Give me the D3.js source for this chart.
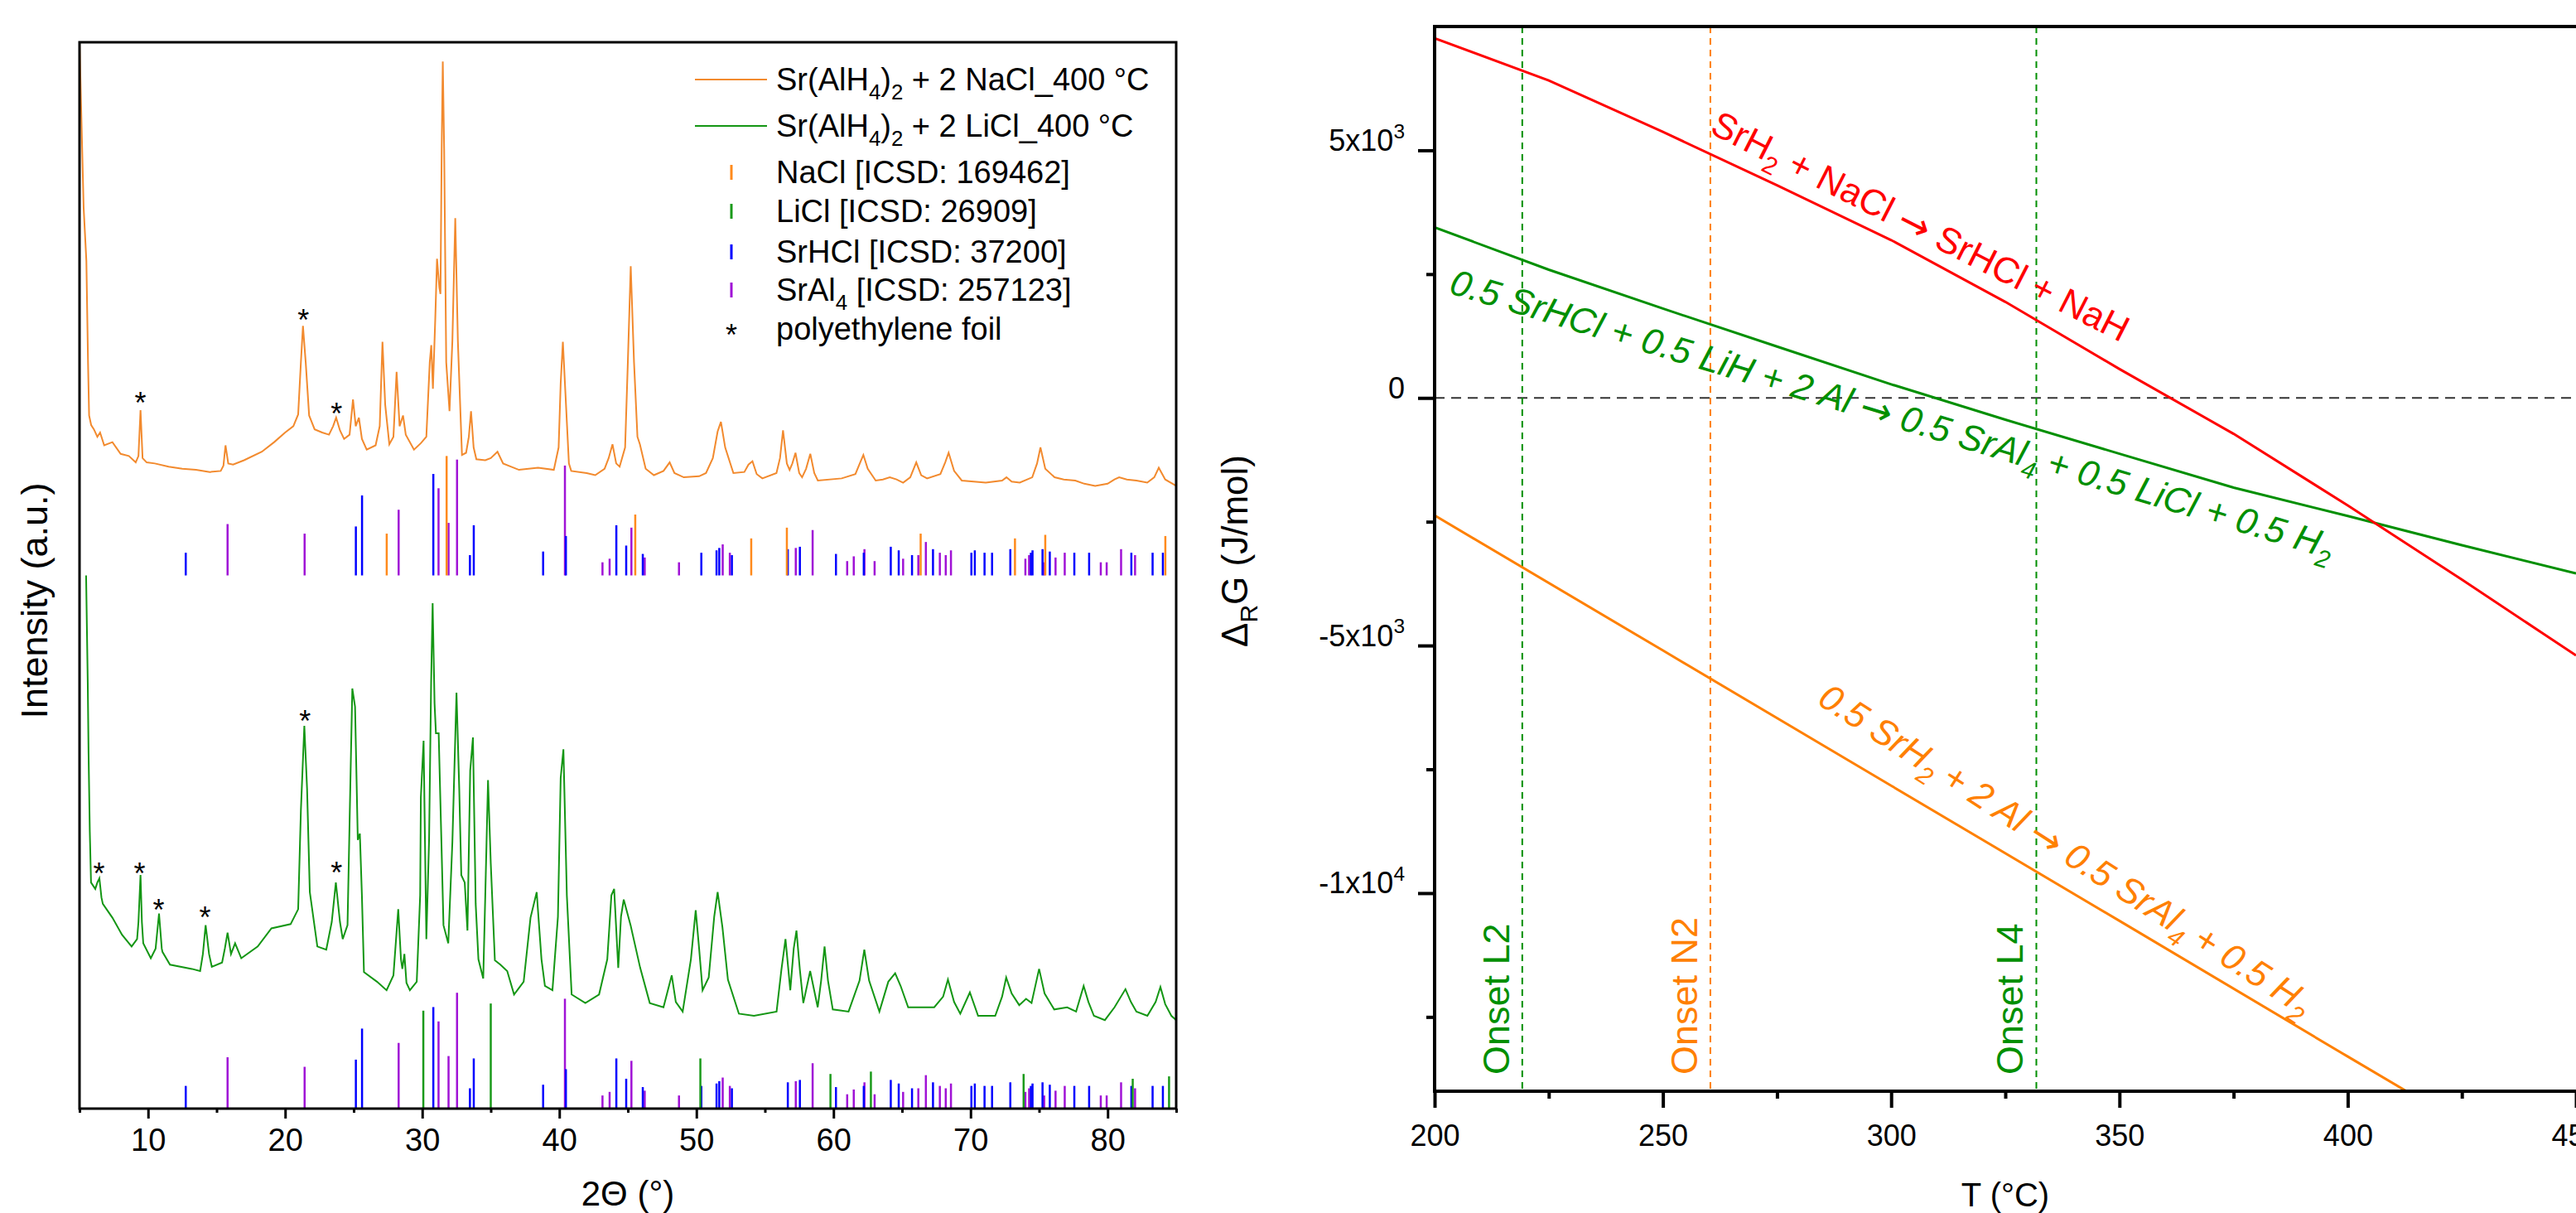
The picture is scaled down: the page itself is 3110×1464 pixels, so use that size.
<!DOCTYPE html>
<html>
<head>
<meta charset="utf-8">
<script src="https://cdn.jsdelivr.net/npm/d3@7"></script>
<style>
  body { margin: 0; background: #fff; }
  text { font-family: "Liberation Sans", Arial, Helvetica, sans-serif; fill: #000; }
</style>
</head>
<body>
<script>
// ---------- data ----------
// XRD patterns, [2theta, intensity a.u.]
const xrdNaCl = [[5.0,1000],[5.3,845],[5.5,795],[5.62,700],[5.7,650],[5.85,641],[6.05,637],[6.3,630],[6.5,634],[6.8,622],[7.4,625],[8.0,614],[8.6,612],[9.1,606],[9.3,612],[9.45,655],[9.6,610],[9.9,606],[10.5,605],[11.5,602],[12.5,600],[13.5,599],[14.5,597],[15.3,598],[15.5,603],[15.65,622],[15.85,605],[16.2,604],[17.0,608],[18.3,616],[19.2,625],[20.0,634],[20.6,640],[20.95,651],[21.15,700],[21.3,734],[21.5,700],[21.75,650],[22.15,637],[22.7,634],[23.2,632],[23.5,640],[23.72,648],[24.0,636],[24.3,628],[24.7,632],[24.95,665],[25.15,640],[25.38,648],[25.6,628],[25.95,618],[26.6,622],[26.9,640],[27.1,719],[27.3,660],[27.6,623],[27.9,630],[28.13,691],[28.35,640],[28.6,650],[28.8,632],[29.4,618],[29.9,624],[30.3,630],[30.55,700],[30.66,716],[30.78,675],[30.95,740],[31.08,797],[31.25,770],[31.33,764],[31.42,900],[31.5,982],[31.6,900],[31.75,700],[31.99,654],[32.2,720],[32.41,835],[32.6,720],[32.9,613],[33.2,615],[33.4,630],[33.56,654],[33.75,620],[33.95,609],[34.6,608],[35.0,610],[35.49,616],[35.9,605],[37.06,599],[38.45,601],[39.6,599],[39.95,620],[40.1,680],[40.26,719],[40.45,670],[40.7,605],[40.87,598],[42.0,596],[42.62,594],[43.3,600],[43.6,610],[43.88,623],[44.15,605],[44.4,602],[44.8,620],[45.0,700],[45.21,790],[45.45,700],[45.7,630],[45.88,623],[46.3,600],[46.9,594],[47.6,598],[48.05,606],[48.4,596],[49.08,592],[50.2,593],[50.7,596],[51.2,610],[51.55,635],[51.79,644],[52.1,620],[52.7,596],[53.5,597],[53.8,604],[54.09,607],[54.4,595],[54.81,591],[55.84,596],[56.1,610],[56.32,636],[56.6,605],[56.8,599],[57.0,605],[57.23,615],[57.5,596],[57.71,592],[58.0,600],[58.31,614],[58.6,596],[58.86,589],[60.6,591],[61.6,595],[61.95,606],[62.18,613],[62.5,600],[63.08,589],[63.6,590],[64.11,592],[64.6,590],[65.08,587],[65.6,592],[66.04,606],[66.4,594],[66.83,591],[67.8,595],[68.15,606],[68.4,615],[68.8,598],[69.36,589],[71.11,587],[72.3,589],[72.62,592],[73.0,588],[73.59,587],[74.5,592],[74.85,605],[75.1,620],[75.45,600],[76.13,592],[76.8,590],[77.64,589],[78.3,586],[79.09,584],[80.0,586],[80.5,590],[80.84,592],[81.4,590],[82.1,589],[82.89,587],[83.4,592],[83.73,601],[84.2,590],[85.0,584]];

const xrdLiCl = [[5.48,500],[5.6,400],[5.66,333],[5.75,260],[5.84,212],[6.15,206],[6.3,212],[6.45,216],[6.6,198],[6.7,192],[7.4,179],[8.1,163],[8.8,152],[9.2,159],[9.3,175],[9.45,219],[9.55,175],[9.65,155],[10.2,141],[10.55,150],[10.8,183],[11.0,150],[11.05,147],[11.6,135],[13.2,131],[13.8,129],[14.0,145],[14.2,172],[14.45,145],[14.65,133],[15.4,137],[15.6,150],[15.8,165],[16.05,145],[16.35,155],[16.8,141],[18.0,152],[19.0,169],[20.4,173],[20.95,187],[21.15,280],[21.4,359],[21.6,300],[21.8,203],[22.35,152],[23.0,149],[23.4,175],[23.7,212],[24.0,175],[24.2,159],[24.55,172],[24.75,300],[24.9,394],[25.1,377],[25.3,252],[25.45,258],[25.6,200],[25.75,128],[26.7,119],[27.4,111],[27.9,125],[28.25,187],[28.45,140],[28.55,131],[28.7,145],[28.85,118],[29.1,111],[29.6,119],[29.85,200],[29.9,292],[30.1,345],[30.3,159],[30.5,252],[30.65,400],[30.76,474],[30.9,380],[31.0,352],[31.2,352],[31.4,250],[31.55,172],[31.9,155],[32.2,250],[32.5,390],[32.7,300],[32.85,219],[33.1,212],[33.3,167],[33.5,317],[33.7,348],[33.9,192],[34.1,140],[34.45,122],[34.6,200],[34.8,308],[35.0,230],[35.3,139],[35.7,135],[36.2,129],[36.7,107],[37.4,119],[37.9,179],[38.35,203],[38.7,140],[38.95,115],[39.5,111],[39.9,180],[40.1,310],[40.3,337],[40.55,200],[40.9,107],[41.9,99],[42.9,107],[43.5,140],[43.8,200],[44.0,206],[44.3,132],[44.5,180],[44.7,196],[45.2,172],[45.9,132],[46.6,99],[47.6,95],[48.0,115],[48.2,125],[48.5,100],[49.0,91],[49.6,140],[49.95,186],[50.2,150],[50.45,111],[50.9,123],[51.3,180],[51.55,203],[51.9,170],[52.3,121],[53.1,89],[54.2,87],[55.85,91],[56.2,130],[56.5,159],[56.85,111],[57.1,150],[57.3,167],[57.55,130],[57.8,99],[58.3,129],[58.85,95],[59.1,120],[59.35,152],[59.6,120],[59.95,93],[61.1,91],[61.9,120],[62.25,149],[62.6,120],[63.35,91],[64.0,119],[64.5,127],[64.9,115],[65.45,95],[67.35,95],[68.0,105],[68.35,121],[68.8,100],[69.25,89],[69.95,109],[70.55,87],[71.8,87],[72.3,105],[72.6,123],[73.0,108],[73.55,97],[74.05,103],[74.45,99],[75.0,131],[75.4,108],[76.1,93],[77.05,95],[77.7,91],[78.25,115],[78.6,100],[79.0,87],[79.8,83],[80.5,95],[81.3,112],[81.7,100],[82.1,91],[82.9,87],[83.5,100],[83.85,114],[84.2,98],[84.65,87],[85.0,83]];

// reference reflections: 2theta and relative intensity (%)
const naclPos = [27.41,31.78,45.54,54.0,56.6,66.36,73.24,75.45,84.21];
const naclRel = [35,100,51,31,40,35,31,34,33];
const liclPos = [30.08,35.0,50.29,59.78,62.73,73.87,81.83,84.48];
const liclRel = [82,88,42,29,31,29,25,27];
const srhclPos = [12.75,25.16,25.61,30.81,33.48,33.76,38.82,40.48,44.16,44.88,46.09,50.36,51.47,51.67,52.59,56.67,57.55,60.18,62.21,64.18,64.76,65.73,67.26,70.06,70.31,71.02,71.57,72.9,74.4,74.52,75.25,75.78,77.57,78.65,81.73,83.28,84.03];
const srhclRel = [19,41,67,85,17,42,20,33,42,25,18,19,21,23,17,22,24,18,19,24,21,17,22,19,21,19,19,22,19,21,22,20,19,19,19,19,19];
const sral4Pos = [15.8,21.42,28.28,31.19,31.92,32.54,40.41,43.15,43.67,45.26,46.23,48.73,51.92,52.44,57.25,58.48,61.0,61.48,62.26,63.0,65.08,66.19,66.74,67.76,68.19,68.57,74.0,74.27,75.37,76.2,76.87,79.5,79.93,80.98,82.0];
const sral4Rel = [43,35,55,73,44,97,92,11,14,40,15,11,26,19,23,38,12,16,22,12,14,17,28,19,17,21,14,17,11,15,19,11,11,22,17];

// polyethylene foil reflections marked with *
const starsNaCl = [[9.44,667],[21.33,745],[23.75,657]];
const starsLiCl = [[6.42,226],[9.38,226],[10.77,192],[14.15,185],[21.45,369],[23.75,227]];

// reaction Gibbs energies, [T degC, dG J/mol]
const dgNaCl = [[200,7265],[225,6411],[250,5373],[275,4293],[300,3187],[325,1940],[350,583],[375,-725],[400,-2170],[425,-3670],[450,-5200]];
const dgLiCl = [[200,3444],[225,2589],[250,1804],[275,1038],[300,275],[325,-440],[350,-1127],[375,-1810],[400,-2385],[425,-2975],[450,-3545]];
const dgSrAl = [[200,-2372],[250,-5100],[300,-7830],[350,-10560],[400,-13300],[425,-14660]];

const onsetT = [219.2, 260.4, 331.8];
const onsetName = ['Onset L2', 'Onset N2', 'Onset L4'];

const xTicksL = [10,20,30,40,50,60,70,80];
const xTicksR = [200,250,300,350,400,450];
const yTicksR = [5000,0,-5000,-10000];
const yTickTextR = ['5x10^3^','0','-5x10^3^','-1x10^4^'];

// ---------- layout ----------
const W = 3110, H = 1464;
const col = {
  naclLine: '#F28A2E', liclLine: '#149614',
  nacl: '#FF8A1C', licl: '#1A9A1A', srhcl: '#0000FF', sral4: '#A012D6',
  red: '#FF0000', green: '#008F00', orange: '#FF8000'
};

const svg = d3.select('body').append('svg').attr('width', W).attr('height', H);
svg.append('rect').attr('width', W).attr('height', H).attr('fill', '#fff');

// text with ~sub~ and ^sup^ pieces; arrows drawn with DejaVu (longer glyph)
function rich(t, str, fs) {
  const parts = str.split(/(~[^~]*~|\^[^^]*\^|→)/).filter(p => p !== '');
  let cur = 0;
  parts.forEach(p => {
    let off = 0, size = fs, s = p;
    if (p[0] === '~') { off = 0.28 * fs; size = 0.68 * fs; s = p.slice(1, -1); }
    else if (p[0] === '^') { off = -0.42 * fs; size = 0.68 * fs; s = p.slice(1, -1); }
    else if (p === '→') { off = 0.03 * fs; size = 1.05 * fs; }
    const ts = t.append('tspan').attr('dy', off - cur).style('font-size', size + 'px').text(s);
    if (p === '→') ts.style('font-family', '"DejaVu Sans", sans-serif').style('font-style', 'normal');
    cur = off;
  });
}

function styleAxis(g, sw, fs) {
  g.select('.domain').remove();
  g.selectAll('.tick line').attr('stroke', '#000').attr('stroke-width', sw);
  g.selectAll('.tick text').style('font-size', fs + 'px').attr('fill', '#000');
}

// ================= left panel: XRD =================
const xL = d3.scaleLinear().domain([5, 85]).range([96, 1420]);
const yL = d3.scaleLinear().domain([0, 1000]).range([1338, 51]);
const stickH = 1.12;      // a.u. per % of relative intensity
const upperBase = 500;    // a.u. where the upper reference set sits

svg.append('clipPath').attr('id', 'clipL').append('rect')
  .attr('x', 96).attr('y', 51).attr('width', 1324).attr('height', 1287);
const L = svg.append('g').attr('clip-path', 'url(#clipL)');

function sticks(pos, rel, base, color) {
  L.append('g').selectAll('line').data(pos).enter().append('line')
    .attr('x1', d => xL(d)).attr('x2', d => xL(d))
    .attr('y1', yL(base))
    .attr('y2', (d, i) => yL(base + rel[i] * stickH))
    .attr('stroke', color).attr('stroke-width', 2.5);
}
// upper set (NaCl sample)
sticks(sral4Pos, sral4Rel, upperBase, col.sral4);
sticks(srhclPos, srhclRel, upperBase, col.srhcl);
sticks(naclPos, naclRel, upperBase, col.nacl);
// lower set (LiCl sample)
sticks(sral4Pos, sral4Rel, 0, col.sral4);
sticks(srhclPos, srhclRel, 0, col.srhcl);
sticks(liclPos, liclRel, 0, col.licl);

const lineL = d3.line().x(d => xL(d[0])).y(d => yL(d[1]));
L.append('path').datum(xrdNaCl).attr('d', lineL).attr('fill', 'none')
  .attr('stroke', col.naclLine).attr('stroke-width', 2);
L.append('path').datum(xrdLiCl).attr('d', lineL).attr('fill', 'none')
  .attr('stroke', col.liclLine).attr('stroke-width', 2);

const starFs = 36;
L.append('g').selectAll('text').data(starsNaCl.concat(starsLiCl)).enter().append('text')
  .attr('x', d => xL(d[0])).attr('y', d => yL(d[1]) + starFs * 0.55)
  .attr('text-anchor', 'middle').style('font-size', starFs + 'px').text('*');

// axis
const gxL = svg.append('g').attr('transform', `translate(0,${yL(0)})`);
gxL.call(d3.axisBottom(xL).tickValues(xTicksL).tickSize(12).tickPadding(12).tickSizeOuter(0));
styleAxis(gxL, 3, 38);
const gxL2 = svg.append('g').attr('transform', `translate(0,${yL(0)})`);
gxL2.call(d3.axisBottom(xL).tickValues(d3.range(5, 86, 10)).tickSize(5).tickFormat('').tickSizeOuter(0));
styleAxis(gxL2, 3, 38);

svg.append('rect').attr('x', 96).attr('y', 51).attr('width', 1324).attr('height', 1287)
  .attr('fill', 'none').attr('stroke', '#000').attr('stroke-width', 3);

svg.append('text').attr('x', 758).attr('y', 1455).attr('text-anchor', 'middle')
  .style('font-size', '42px').text('2Θ (°)');
svg.append('text').attr('transform', 'translate(57,725) rotate(-90)').attr('text-anchor', 'middle')
  .style('font-size', '45px').text('Intensity (a.u.)');

// legend
const legend = [
  { kind: 'line', color: col.naclLine, label: 'Sr(AlH~4~)~2~ + 2 NaCl_400 °C', y: 96 },
  { kind: 'line', color: col.liclLine, label: 'Sr(AlH~4~)~2~ + 2 LiCl_400 °C', y: 152 },
  { kind: 'tick', color: col.nacl, label: 'NaCl [ICSD: 169462]', y: 208 },
  { kind: 'tick', color: col.licl, label: 'LiCl [ICSD: 26909]', y: 255 },
  { kind: 'tick', color: col.srhcl, label: 'SrHCl [ICSD: 37200]', y: 304 },
  { kind: 'tick', color: col.sral4, label: 'SrAl~4~ [ICSD: 257123]', y: 350 },
  { kind: 'star', color: '#000', label: 'polyethylene foil', y: 397 }
];
const lg = svg.append('g');
legend.forEach(e => {
  if (e.kind === 'line') {
    lg.append('line').attr('x1', 839).attr('x2', 926).attr('y1', e.y).attr('y2', e.y)
      .attr('stroke', e.color).attr('stroke-width', 2);
  } else if (e.kind === 'tick') {
    lg.append('line').attr('x1', 883).attr('x2', 883).attr('y1', e.y - 9).attr('y2', e.y + 9)
      .attr('stroke', e.color).attr('stroke-width', 3);
  } else {
    lg.append('text').attr('x', 883).attr('y', e.y + starFs * 0.55).attr('text-anchor', 'middle')
      .style('font-size', starFs + 'px').text('*');
  }
  const t = lg.append('text').attr('x', 937).attr('y', e.y + 13).style('font-size', '38px');
  rich(t, e.label, 38);
});

// ================= right panel: Gibbs energy =================
const xR = d3.scaleLinear().domain([200, 450]).range([1732, 3110]);
const yR = d3.scaleLinear().domain([-14000, 7500]).range([1317, 32]);

svg.append('clipPath').attr('id', 'clipR').append('rect')
  .attr('x', 1732).attr('y', 32).attr('width', 1378).attr('height', 1285);
const R = svg.append('g').attr('clip-path', 'url(#clipR)');

R.append('line').attr('x1', xR(200)).attr('x2', xR(450)).attr('y1', yR(0)).attr('y2', yR(0))
  .attr('stroke', '#333').attr('stroke-width', 2).attr('stroke-dasharray', '12,8');

const onsetColor = [col.green, col.orange, col.green];
R.append('g').selectAll('line').data(onsetT).enter().append('line')
  .attr('x1', d => xR(d)).attr('x2', d => xR(d)).attr('y1', yR(7500)).attr('y2', yR(-14000))
  .attr('stroke', (d, i) => onsetColor[i]).attr('stroke-width', 2).attr('stroke-dasharray', '8,6');

const lineR = d3.line().x(d => xR(d[0])).y(d => yR(d[1]));
[[dgSrAl, col.orange], [dgLiCl, col.green], [dgNaCl, col.red]].forEach(([s, c]) => {
  R.append('path').datum(s).attr('d', lineR).attr('fill', 'none')
    .attr('stroke', c).attr('stroke-width', 3);
});

// onset labels
onsetT.forEach((T, i) => {
  svg.append('text').attr('transform', `translate(${xR(T) - 16},1297) rotate(-90)`)
    .style('font-size', '45px').style('fill', onsetColor[i])
    .text(onsetName[i]);
});

// reaction labels
const reactions = [
  { text: 'SrH~2~ + NaCl → SrHCl + NaH', at: [305.2, 3240], angle: 27, color: col.red, italic: false },
  { text: '0.5 SrHCl + 0.5 LiH + 2 Al → 0.5 SrAl~4~ + 0.5 LiCl + 0.5 H~2~', at: [299.5, -567], angle: 16.8, color: col.green, italic: true },
  { text: '0.5 SrH~2~ + 2 Al → 0.5 SrAl~4~ + 0.5 H~2~', at: [336.8, -9330], angle: 32.8, color: col.orange, italic: true }
];
reactions.forEach(r => {
  const t = svg.append('text')
    .attr('transform', `translate(${xR(r.at[0])},${yR(r.at[1])}) rotate(${r.angle})`)
    .attr('text-anchor', 'middle').style('font-size', '44px')
    .style('font-style', r.italic ? 'italic' : 'normal').style('fill', r.color);
  rich(t, r.text, 44);
});

// axes
const gxR = svg.append('g').attr('transform', `translate(0,${yR(-14000)})`);
gxR.call(d3.axisBottom(xR).tickValues(xTicksR).tickSize(20).tickPadding(20).tickSizeOuter(0));
styleAxis(gxR, 4, 36);
const gxR2 = svg.append('g').attr('transform', `translate(0,${yR(-14000)})`);
gxR2.call(d3.axisBottom(xR).tickValues(d3.range(225, 450, 50)).tickSize(9).tickFormat('').tickSizeOuter(0));
styleAxis(gxR2, 4, 36);

const gyR = svg.append('g').attr('transform', `translate(${xR(200)},0)`);
gyR.call(d3.axisLeft(yR).tickValues(yTicksR).tickSize(20).tickPadding(16).tickSizeOuter(0));
styleAxis(gyR, 4, 36);
gyR.selectAll('.tick text').each(function (d) {
  const t = d3.select(this);
  t.text('');
  rich(t, yTickTextR[yTicksR.indexOf(d)], 36);
});
const gyR2 = svg.append('g').attr('transform', `translate(${xR(200)},0)`);
gyR2.call(d3.axisLeft(yR).tickValues([2500, -2500, -7500, -12500]).tickSize(10).tickFormat('').tickSizeOuter(0));
styleAxis(gyR2, 4, 36);

// frame: left, bottom, top
svg.append('path')
  .attr('d', `M${xR(450)},${yR(7500)} H${xR(200)} V${yR(-14000)} H${xR(450)}`)
  .attr('fill', 'none').attr('stroke', '#000').attr('stroke-width', 4);

svg.append('text').attr('x', 2421).attr('y', 1456).attr('text-anchor', 'middle')
  .style('font-size', '40px').text('T (°C)');
const yt = svg.append('text').attr('transform', 'translate(1506,665) rotate(-90)')
  .attr('text-anchor', 'middle').style('font-size', '44px');
rich(yt, 'Δ~R~G (J/mol)', 44);
</script>
</body>
</html>
